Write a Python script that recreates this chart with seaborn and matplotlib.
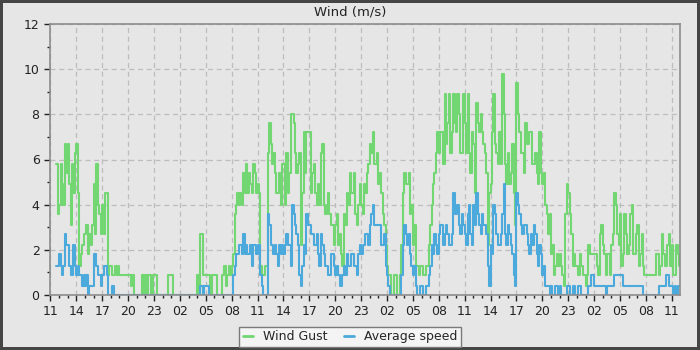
import numpy as np
import pandas as pd
import seaborn as sns
import matplotlib.pyplot as plt
from matplotlib.ticker import MultipleLocator, FuncFormatter

# readings every 10 minutes, first one at 11:40 (one row per hour)
gust = [5.8, 3.6,                          # 11
        4.0, 5.8, 4.9, 4.0, 6.7, 5.4,      # 12
        6.7, 4.9, 3.1, 5.8, 4.5, 6.3,      # 13
        6.7, 4.5, 1.3, 1.8, 2.2, 2.7,      # 14
        2.7, 3.1, 1.8, 2.7, 2.2, 3.1,      # 15
        4.9, 2.7, 5.8, 4.0, 3.6, 2.7,      # 16
        4.0, 2.7, 4.5, 4.5, 0.9, 1.3,      # 17
        1.3, 0.9, 0.9, 1.3, 0.9, 1.3,      # 18
        0.9, 0.9, 0.9, 0.9, 0.9, 0.9,      # 19
        0.9, 0.9, 0.4, 0.9, 0.0, 0.0,      # 20
        0.0, 0.0, 0.0, 0.0, 0.9, 0.0,      # 21
        0.9, 0.0, 0.9, 0.9, 0.0, 0.9,      # 22
        0.9, 0.9, 0.0, 0.0, 0.0, 0.0,      # 23
        0.0, 0.0, 0.0, 0.0, 0.9, 0.9,      # 00
        0.9, 0.0, 0.0, 0.0, 0.0, 0.0,      # 01
        0.0, 0.0, 0.0, 0.0, 0.0, 0.0,      # 02
        0.0, 0.0, 0.0, 0.0, 0.0, 0.0,      # 03
        0.9, 0.0, 2.7, 2.7, 0.9, 0.9,      # 04
        0.9, 0.9, 0.9, 0.0, 0.9, 0.9,      # 05
        0.9, 0.9, 0.0, 0.0, 0.0, 0.9,      # 06
        0.9, 1.3, 0.4, 0.9, 1.3, 0.9,      # 07
        1.3, 1.8, 3.6, 4.0, 4.5, 4.0,      # 08
        4.5, 4.0, 5.4, 4.5, 5.8, 4.5,      # 09
        5.4, 4.9, 4.5, 5.8, 5.4, 4.5,      # 10
        4.9, 4.5, 1.3, 0.9, 0.9, 1.3,      # 11
        1.3, 6.3, 7.6, 6.7, 5.8, 6.3,      # 12
        5.4, 4.5, 4.5, 5.4, 4.0, 5.8,      # 13
        5.8, 4.0, 6.3, 4.5, 5.4, 8.0,      # 14
        8.0, 7.6, 6.3, 5.4, 5.8, 6.3,      # 15
        2.2, 4.5, 7.2, 5.4, 7.2, 7.2,      # 16
        7.2, 4.5, 5.4, 5.8, 4.5, 4.0,      # 17
        4.9, 4.0, 6.3, 6.7, 4.0, 3.6,      # 18
        4.0, 4.5, 3.6, 3.1, 3.1, 2.2,      # 19
        3.1, 3.6, 2.2, 2.7, 1.8, 1.3,      # 20
        3.6, 3.1, 4.5, 4.0, 5.4, 4.5,      # 21
        4.5, 5.4, 3.6, 3.1, 4.0, 4.9,      # 22
        4.0, 3.6, 4.9, 4.5, 5.4, 5.8,      # 23
        6.7, 6.3, 7.2, 5.8, 5.8, 6.3,      # 00
        4.9, 5.4, 4.5, 3.6, 3.1, 2.2,      # 01
        1.3, 0.9, 0.9, 0.0, 0.0, 0.9,      # 02
        0.9, 0.0, 0.0, 0.9, 2.2, 4.5,      # 03
        5.4, 4.9, 4.9, 5.4, 3.6, 4.0,      # 04
        2.2, 3.1, 1.3, 1.3, 0.9, 1.3,      # 05
        1.3, 0.9, 0.9, 1.3, 1.3, 2.2,      # 06
        3.1, 4.0, 4.9, 5.4, 6.3, 7.2,      # 07
        6.3, 7.2, 7.2, 5.8, 8.9, 6.7,      # 08
        7.6, 8.9, 6.3, 7.2, 8.9, 7.6,      # 09
        7.2, 8.9, 8.0, 6.3, 6.3, 8.9,      # 10
        7.6, 6.3, 8.9, 6.3, 5.4, 7.2,      # 11
        6.7, 4.5, 8.5, 7.6, 7.2, 8.0,      # 12
        7.2, 6.7, 6.3, 5.4, 2.2, 4.5,      # 13
        4.9, 7.2, 8.9, 6.7, 6.3, 5.8,      # 14
        7.2, 5.8, 9.8, 8.0, 5.8, 4.9,      # 15
        6.3, 4.9, 5.4, 6.7, 4.5, 3.1,      # 16
        9.4, 8.0, 7.2, 6.3, 6.3, 5.4,      # 17
        7.6, 6.7, 6.7, 7.2, 7.2, 5.8,      # 18
        5.8, 6.3, 5.4, 4.9, 7.2, 5.4,      # 19
        4.9, 5.4, 4.0, 3.6, 2.7, 3.6,      # 20
        1.8, 2.2, 0.9, 1.3, 1.8, 1.3,      # 21
        1.8, 1.3, 0.9, 0.4, 3.6, 4.9,      # 22
        4.5, 3.6, 2.7, 1.3, 1.8, 1.3,      # 23
        1.3, 0.9, 1.8, 1.3, 0.9, 0.9,      # 00
        0.4, 0.9, 2.2, 1.8, 1.8, 1.8,      # 01
        1.8, 1.8, 1.3, 0.9, 2.7, 3.1,      # 02
        2.2, 1.8, 0.9, 1.8, 1.8, 0.9,      # 03
        2.2, 2.7, 4.5, 4.0, 2.7, 2.2,      # 04
        3.6, 1.3, 1.8, 3.6, 2.7, 1.8,      # 05
        2.2, 3.6, 4.0, 1.8, 1.8, 2.7,      # 06
        3.1, 1.3, 1.8, 2.7, 1.3, 0.9,      # 07
        0.9, 0.9, 0.9, 0.9, 0.9, 0.9,      # 08
        0.9, 1.8, 1.8, 0.9, 1.3, 2.7,      # 09
        1.8, 1.3, 1.3, 2.2, 2.7, 1.3,      # 10
        2.2, 0.9, 0.9, 2.2, 1.8, 1.3]      # 11

avg = [1.3, 1.3,
       1.8, 1.3, 0.9, 1.3, 2.7, 2.2,
       2.2, 1.3, 0.9, 0.9, 2.2, 1.3,
       0.9, 1.3, 0.9, 0.9, 0.4, 0.9,
       0.4, 0.9, 0.0, 0.4, 0.4, 0.4,
       1.8, 1.8, 1.3, 0.9, 0.9, 0.4,
       0.9, 1.3, 1.3, 0.9, 0.0, 0.0,
       0.0, 0.4, 0.0, 0.0, 0.0, 0.0,
       0.0, 0.0, 0.0, 0.0, 0.0, 0.0,
       0.0, 0.0, 0.0, 0.0, 0.0, 0.0,
       0.0, 0.0, 0.0, 0.0, 0.0, 0.0,
       0.0, 0.0, 0.0, 0.0, 0.0, 0.0,
       0.0, 0.0, 0.0, 0.0, 0.0, 0.0,
       0.0, 0.0, 0.0, 0.0, 0.0, 0.0,
       0.0, 0.0, 0.0, 0.0, 0.0, 0.0,
       0.0, 0.0, 0.0, 0.0, 0.0, 0.0,
       0.0, 0.0, 0.0, 0.0, 0.0, 0.0,
       0.0, 0.0, 0.4, 0.4, 0.0, 0.4,
       0.4, 0.4, 0.0, 0.0, 0.0, 0.0,
       0.0, 0.0, 0.0, 0.0, 0.0, 0.0,
       0.0, 0.0, 0.0, 0.0, 0.0, 0.0,
       0.0, 0.9, 1.3, 1.8, 1.8, 2.2,
       2.2, 1.8, 2.7, 1.8, 2.2, 1.8,
       1.8, 2.2, 1.3, 2.2, 2.2, 1.8,
       2.2, 2.2, 0.9, 0.4, 0.0, 0.0,
       0.0, 3.6, 3.1, 2.2, 2.2, 1.8,
       2.2, 1.8, 1.3, 2.2, 1.8, 2.2,
       1.8, 2.2, 2.7, 2.2, 2.2, 1.3,
       4.0, 3.6, 3.1, 2.7, 2.2, 0.9,
       0.4, 1.3, 2.2, 1.8, 3.6, 3.1,
       3.1, 2.7, 2.7, 2.2, 2.2, 2.7,
       1.8, 1.3, 2.7, 2.2, 1.8, 1.3,
       1.3, 0.9, 0.9, 1.8, 1.8, 1.3,
       0.9, 1.3, 0.9, 0.4, 0.4, 0.9,
       1.3, 0.9, 1.8, 1.3, 1.3, 1.8,
       1.8, 1.3, 1.3, 0.9, 1.8, 2.2,
       1.8, 2.2, 2.2, 2.7, 2.7, 2.2,
       3.1, 3.6, 4.0, 3.1, 3.1, 3.1,
       3.1, 3.1, 2.2, 2.2, 2.7, 1.3,
       0.9, 0.4, 0.0, 0.0, 0.0, 0.0,
       0.0, 0.0, 0.0, 0.0, 0.9, 2.2,
       3.1, 2.7, 2.2, 2.7, 1.8, 1.3,
       0.9, 1.3, 0.4, 0.0, 0.0, 0.4,
       0.4, 0.0, 0.0, 0.4, 0.4, 0.9,
       1.3, 2.2, 1.8, 2.7, 2.2, 1.8,
       2.7, 3.1, 3.1, 2.2, 2.7, 3.1,
       2.7, 2.2, 2.2, 2.7, 4.5, 3.6,
       3.6, 4.0, 3.1, 2.7, 3.6, 3.1,
       2.7, 2.2, 3.6, 4.0, 2.7, 2.2,
       4.0, 3.1, 4.5, 3.6, 3.1, 2.7,
       3.6, 3.1, 3.1, 2.7, 1.3, 0.4,
       2.2, 1.8, 4.0, 3.6, 2.7, 2.2,
       2.2, 2.7, 3.6, 4.9, 2.7, 2.2,
       3.1, 2.7, 2.2, 1.8, 0.9, 0.4,
       4.5, 4.0, 3.6, 3.1, 2.7, 3.1,
       3.1, 2.7, 2.2, 1.8, 2.7, 2.2,
       3.1, 2.7, 1.8, 1.3, 2.2, 1.8,
       0.9, 1.3, 0.4, 0.4, 0.4, 0.0,
       0.4, 0.0, 0.0, 0.4, 0.4, 0.0,
       0.4, 0.0, 0.0, 0.0, 0.0, 0.4,
       0.4, 0.0, 0.0, 0.4, 0.4, 0.0,
       0.0, 0.4, 0.4, 0.0, 0.0, 0.0,
       0.0, 0.0, 0.4, 0.4, 0.9, 0.9,
       0.4, 0.4, 0.4, 0.4, 0.4, 0.4,
       0.4, 0.4, 0.0, 0.4, 0.4, 0.4,
       0.4, 0.4, 0.9, 0.9, 0.9, 0.9,
       0.9, 0.9, 0.4, 0.4, 0.4, 0.4,
       0.4, 0.4, 0.4, 0.4, 0.4, 0.4,
       0.4, 0.4, 0.4, 0.4, 0.0, 0.0,
       0.0, 0.0, 0.0, 0.0, 0.0, 0.0,
       0.0, 0.0, 0.0, 0.4, 0.4, 0.4,
       0.4, 0.4, 0.9, 0.9, 0.4, 0.4,
       0.4, 0.0, 0.4, 0.0, 0.4, 0.4]

series_names = ['Wind Gust', 'Average speed']
colors = {'Wind Gust': '#72d672', 'Average speed': '#4baadb'}
start_hour = 11

hours = 2 / 3 + np.arange(len(gust)) / 6
df = pd.DataFrame({
    'hours': np.concatenate([hours, hours]),
    'speed': gust + avg,
    'series': [series_names[0]] * len(gust) + [series_names[1]] * len(avg),
})

bg = '#e6e6e6'
sns.set_style('ticks')
plt.rcParams['font.family'] = ['DejaVu Sans']

fig = plt.figure(figsize=(7, 3.5), dpi=100, facecolor=bg,
                 edgecolor='#454545', linewidth=3)
ax = fig.add_axes([50 / 700, 1 - 295 / 350, 630 / 700, 271 / 350])
ax.set_facecolor(bg)

sns.lineplot(data=df, x='hours', y='speed', hue='series', hue_order=series_names,
             palette=colors, drawstyle='steps-post', linewidth=1.5, ax=ax,
             legend=False)

ax.set_xlim(-0.05, 72.95)
ax.set_ylim(0, 12)
ax.xaxis.set_major_locator(MultipleLocator(3))
ax.xaxis.set_minor_locator(MultipleLocator(1))
ax.yaxis.set_major_locator(MultipleLocator(2))
ax.yaxis.set_minor_locator(MultipleLocator(1))
ax.xaxis.set_major_formatter(FuncFormatter(lambda v, p: '%02d' % ((start_hour + int(round(v))) % 24)))
ax.tick_params(which='major', length=4, width=1, colors='#222222', labelsize=9)
ax.tick_params(which='minor', length=2.5, width=1, colors='#222222')
ax.grid(True, which='major', color='#bdbdbd', linestyle=(0, (4, 3)), linewidth=0.9)
ax.set_axisbelow(True)
for s in ax.spines.values():
    s.set_color('#8c8c8c')
    s.set_linewidth(1.2)
ax.set_xlabel('')
ax.set_ylabel('')

fig.text(0.5, 1 - 12 / 350, 'Wind (m/s)', ha='center', va='center', fontsize=9.5, color='#222222')

handles = [plt.Line2D([], [], color=colors[n], linewidth=2) for n in series_names]
leg = fig.legend(handles, series_names, loc='lower center', bbox_to_anchor=(0.5, 3 / 350),
                 ncol=2, fontsize=9, frameon=True, fancybox=False, handlelength=0.8,
                 columnspacing=1.3, borderpad=0.3, handletextpad=0.8, borderaxespad=0)
leg.get_frame().set_facecolor('#f4f4f4')
leg.get_frame().set_edgecolor('#7a7a7a')
leg.get_frame().set_alpha(1)

fig.savefig('out.png', dpi=100, facecolor=fig.get_facecolor(), edgecolor=fig.get_edgecolor())
